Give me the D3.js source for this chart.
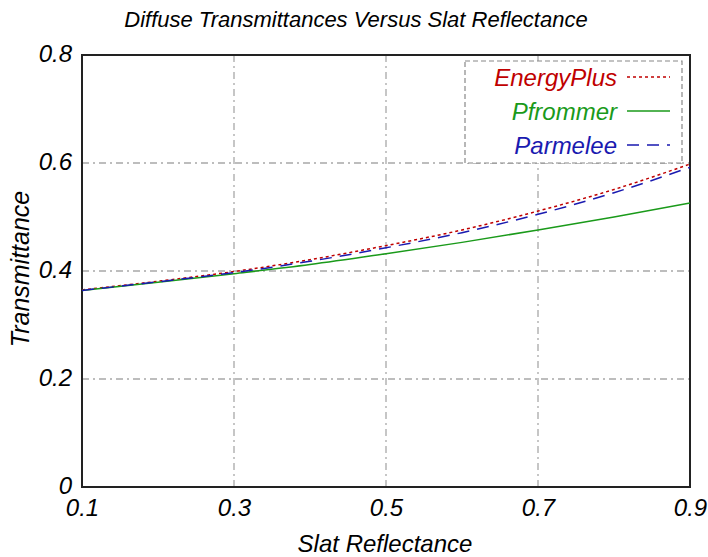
<!DOCTYPE html>
<html><head><meta charset="utf-8">
<script src="https://cdn.jsdelivr.net/npm/d3@7"></script>
<style>body{margin:0;background:#fff}svg{display:block}text{font-family:"Liberation Sans",Arial,sans-serif;font-style:italic}</style>
</head><body>
<script>
const reflectance = [0.1,0.2,0.3,0.4,0.5,0.6,0.7,0.8,0.9];
const energyPlus = [0.365,0.381,0.399,0.421,0.447,0.476,0.511,0.551,0.598];
const pfrommer   = [0.364,0.379,0.395,0.412,0.432,0.453,0.476,0.500,0.526];
const parmelee   = [0.364,0.380,0.397,0.418,0.443,0.471,0.505,0.545,0.592];
const xTicks = [0.1,0.3,0.5,0.7,0.9];
const yTicks = [0,0.2,0.4,0.6,0.8];
const seriesNames = ["EnergyPlus","Pfrommer","Parmelee"];

const W=708,H=557;
const svg=d3.select("body").append("svg").attr("width",W).attr("height",H);
const x=d3.scaleLinear().domain([0.1,0.9]).range([82,690]);
const y=d3.scaleLinear().domain([0,0.8]).range([487,55]);

// grid
const grid=svg.append("g").attr("stroke","#a8a8a8").attr("stroke-width",1.3).attr("stroke-dasharray","7,4,2,4");
xTicks.slice(1,-1).forEach(t=>grid.append("line").attr("x1",x(t)).attr("x2",x(t)).attr("y1",y(0)).attr("y2",y(0.8)));
yTicks.slice(1,-1).forEach(t=>grid.append("line").attr("x1",x(0.1)).attr("x2",x(0.9)).attr("y1",y(t)).attr("y2",y(t)));

function styleTicks(g){
  g.selectAll("text").attr("font-size",24).attr("fill","#000")
   .style("font-family","Liberation Sans, Arial, sans-serif").style("font-style","italic");
}
// axes
const xAxis=d3.axisBottom(x).tickValues(xTicks).tickFormat(d3.format(".1f")).tickSize(0).tickPadding(12);
const gx=svg.append("g").attr("transform",`translate(0,${y(0)})`).call(xAxis);
gx.select(".domain").remove(); styleTicks(gx);
const yAxis=d3.axisLeft(y).tickValues(yTicks).tickFormat(d=>d===0?"0":d3.format(".1f")(d)).tickSize(0).tickPadding(10);
const gy=svg.append("g").attr("transform",`translate(${x(0.1)},0)`).call(yAxis);
gy.select(".domain").remove(); styleTicks(gy);
gy.selectAll("text").attr("dy","0.25em");

// frame
svg.append("rect").attr("x",x(0.1)).attr("y",y(0.8)).attr("width",x(0.9)-x(0.1)).attr("height",y(0)-y(0.8))
  .attr("fill","none").attr("stroke","#222").attr("stroke-width",2);

// lines
const series=[
 {name:seriesNames[0],vals:energyPlus,color:"#c00000",dash:"3,3"},
 {name:seriesNames[1],vals:pfrommer,color:"#1a9a1a",dash:null},
 {name:seriesNames[2],vals:parmelee,color:"#1a1ab0",dash:"12,8"}
];
const line=d3.line().curve(d3.curveMonotoneX);
series.forEach(s=>{
  svg.append("path").attr("d",line(reflectance.map((r,i)=>[x(r),y(s.vals[i])])))
   .attr("fill","none").attr("stroke",s.color).attr("stroke-width",1.5).attr("stroke-dasharray",s.dash);
});

// legend
const lg=svg.append("g");
lg.append("rect").attr("x",465).attr("y",61).attr("width",217).attr("height",102).attr("fill","#fff")
  .attr("stroke","#888").attr("stroke-width",1.2).attr("stroke-dasharray","5,3");
series.forEach((s,i)=>{
  const yy=77+i*34;
  lg.append("text").attr("x",617).attr("y",yy).attr("dy","0.36em").attr("text-anchor","end")
    .attr("font-size",24).attr("fill",s.color).text(s.name);
  lg.append("line").attr("x1",627).attr("x2",670).attr("y1",yy).attr("y2",yy)
    .attr("stroke",s.color).attr("stroke-width",1.5).attr("stroke-dasharray",s.dash);
});

// titles
svg.append("text").attr("x",356).attr("y",27).attr("text-anchor","middle").attr("font-size",22).text("Diffuse Transmittances Versus Slat Reflectance");
svg.append("text").attr("x",385).attr("y",552).attr("text-anchor","middle").attr("font-size",24).text("Slat Reflectance");
svg.append("text").attr("transform","translate(29,269) rotate(-90)").attr("text-anchor","middle").attr("font-size",25).text("Transmittance");
</script>
</body></html>
